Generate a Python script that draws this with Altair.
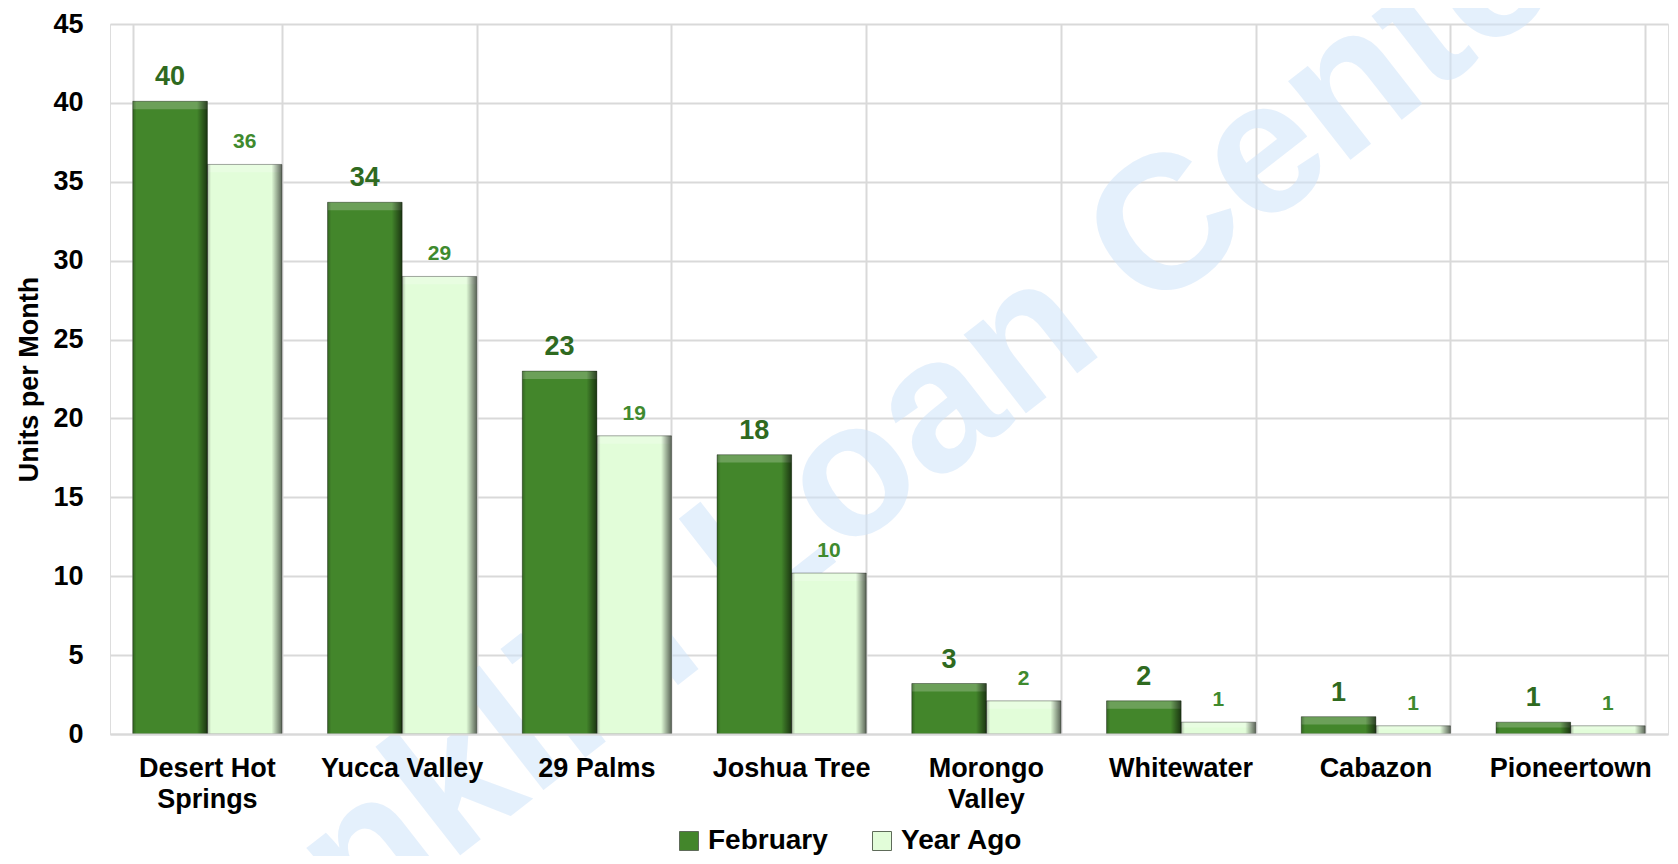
import altair as alt
import pandas as pd

categories = ["Desert Hot Springs", "Yucca Valley", "29 Palms", "Joshua Tree",
              "Morongo Valley", "Whitewater", "Cabazon", "Pioneertown"]
february = [40.1, 33.7, 23.0, 17.7, 3.2, 2.1, 1.1, 0.75]
year_ago = [36.1, 29.0, 18.9, 10.2, 2.1, 0.75, 0.52, 0.52]
series = ["February", "Year Ago"]
series_colors = ["#43862b", "#e2fdd9"]
y_ticks = [0, 5, 10, 15, 20, 25, 30, 35, 40, 45]
watermark = ["Franklin Loan Center"]

rows = []
for c, f, y in zip(categories, february, year_ago):
    rows.append({"Area": c, "Series": "February", "Units": f})
    rows.append({"Area": c, "Series": "Year Ago", "Units": y})
df = pd.DataFrame(rows)

FONT = "Liberation Sans"

label_expr = ("datum.value == 'Desert Hot Springs' ? ['Desert Hot', 'Springs'] : "
              "datum.value == 'Morongo Valley' ? ['Morongo', 'Valley'] : datum.value")

x_scale = alt.Scale(paddingInner=0.234, paddingOuter=0.117)

# axis with labels, drawn above the marks (so the watermark stays beneath the text)
x_enc = alt.X(
    "Area:N", sort=categories, scale=x_scale,
    axis=alt.Axis(title=None, orient="bottom", labelFontSize=27, labelFontWeight="bold",
                  labelColor="black", labelPadding=21, labelLineHeight=31, labelAngle=0,
                  labelLimit=300, ticks=False, tickSize=0, domainColor="#d9d9d9",
                  domainWidth=2, grid=False, zindex=1, labelExpr=label_expr),
)
# axis carrying only the vertical grid lines, drawn beneath the marks
x_grid_enc = alt.X(
    "Area:N", sort=categories, scale=x_scale,
    axis=alt.Axis(title=None, orient="top", labels=False, ticks=False, tickSize=0,
                  domain=False, grid=True, gridColor="#d9d9d9", gridWidth=2,
                  tickBand="extent", zindex=0),
)
xoff_enc = alt.XOffset("Series:N", sort=series, scale=alt.Scale(paddingInner=0, paddingOuter=0))
y_enc = alt.Y(
    "Units:Q", stack=None,
    scale=alt.Scale(domain=[0, 45], nice=False),
    axis=alt.Axis(values=y_ticks, title="Units per Month", titleFontSize=27,
                  titleFontWeight="bold", titleColor="black", titlePadding=9,
                  labelFontSize=27, labelFontWeight="bold", labelColor="black",
                  labelPadding=27, ticks=False, tickSize=0, domain=False,
                  grid=True, gridColor="#d9d9d9", gridWidth=2),
)

base = alt.Chart(df)

grid_layer = base.mark_bar(opacity=0).encode(x=x_grid_enc, xOffset=xoff_enc, y=y_enc)

bars = base.mark_bar().encode(
    x=x_enc, xOffset=xoff_enc, y=y_enc,
    color=alt.Color("Series:N", sort=series,
                    scale=alt.Scale(domain=series, range=series_colors),
                    legend=alt.Legend(orient="none", legendX=565, legendY=803,
                                      direction="horizontal", title=None,
                                      labelFontSize=28, labelFontWeight="bold",
                                      labelColor="black", symbolType="square",
                                      symbolSize=361, symbolStrokeColor="#5e6b59",
                                      symbolStrokeWidth=1, columnPadding=40,
                                      labelOffset=5)),
)

# bevel: top highlight strip
top_strip = base.transform_calculate(
    strip_bottom="max(datum.Units - 0.5, datum.Units * 0.55)"
).mark_bar(color="white", opacity=0.22).encode(
    x=x_enc, xOffset=xoff_enc, y=y_enc, y2="strip_bottom:Q",
)

edge = alt.LinearGradient(
    gradient="linear", x1=0, x2=1, y1=0, y2=0,
    stops=[alt.GradientStop(color="rgba(0,0,0,0.25)", offset=0),
           alt.GradientStop(color="rgba(0,0,0,0)", offset=0.05),
           alt.GradientStop(color="rgba(0,0,0,0)", offset=0.86),
           alt.GradientStop(color="rgba(0,0,0,0.6)", offset=1)],
)
edges = base.mark_bar(fill=edge, stroke="rgba(0,0,0,0.35)", strokeWidth=1).encode(
    x=x_enc, xOffset=xoff_enc, y=y_enc,
)

feb_text = base.transform_filter(alt.datum.Series == "February").mark_text(
    baseline="alphabetic", dy=-16, fontSize=27, fontWeight="bold", color="#2f6a1f"
).encode(x=x_enc, xOffset=xoff_enc, y=y_enc, text=alt.Text("Units:Q", format=".0f"))

ya_text = base.transform_filter(alt.datum.Series == "Year Ago").mark_text(
    baseline="alphabetic", dy=-16, fontSize=21, fontWeight="bold", color="#3f8a2e"
).encode(x=x_enc, xOffset=xoff_enc, y=y_enc, text=alt.Text("Units:Q", format=".0f"))

wm = alt.Chart(pd.DataFrame({"t": watermark})).mark_text(
    angle=322, fontSize=190, fontWeight="bold", color="#cfe4fa", opacity=0.55,
    align="center", baseline="middle"
).encode(text="t:N", x=alt.value(729), y=alt.value(463))

inner = alt.layer(bars, top_strip, edges, feb_text, ya_text)

chart = alt.layer(wm, grid_layer, inner).resolve_axis(x="independent").properties(
    width=1558, height=710,
    autosize=alt.AutoSizeParams(type="none"),
    padding={"left": 102, "top": 16, "right": 2, "bottom": 122},
).configure_view(
    fill="#f2f2f2", stroke="#d9d9d9", strokeWidth=2
).configure(font=FONT).configure_axis(labelFont=FONT, titleFont=FONT).configure_legend(
    labelFont=FONT
).configure_text(font=FONT)

chart.save("out.html", embed_options={"renderer": "svg", "actions": False})
